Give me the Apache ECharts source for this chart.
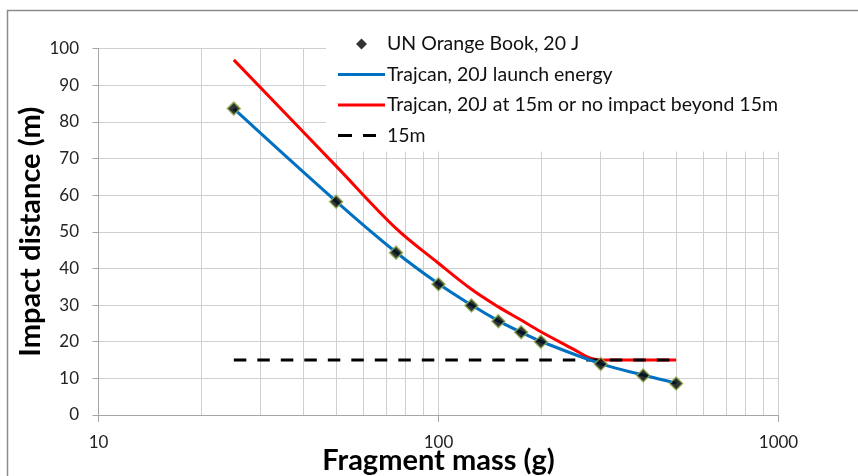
<!DOCTYPE html>
<html>
<head>
<meta charset="utf-8">
<script src="https://cdn.jsdelivr.net/npm/echarts@6/dist/echarts.min.js"></script>
<style>
  html, body { margin: 0; padding: 0; background: #ffffff; }
  #chart { width: 858px; height: 476px; }
</style>
</head>
<body>
<div id="chart"></div>
<script>
// Fragment masses (g) and impact distances (m)
var bookMasses = [25, 50, 75, 100, 125, 150, 175, 200, 300, 400, 500];
var bookDistances = [83.6, 58.2, 44.3, 35.7, 29.9, 25.6, 22.6, 20.0, 13.9, 10.8, 8.6];

var launchMasses = [25, 50, 75, 100, 125, 150, 175, 200, 300, 400, 500];
var launchDistances = [83.6, 58.3, 44.4, 35.8, 30.0, 25.7, 22.6, 20.1, 14.0, 10.9, 8.7];

var limitMasses = [25, 50, 75, 100, 125, 150, 175, 200, 250, 275, 300, 400, 500];
var limitDistances = [96.9, 67.9, 50.9, 41.4, 34.3, 29.5, 25.9, 22.7, 17.9, 15.8, 15.0, 15.0, 15.0];

var thresholdMasses = [25, 500];
var thresholdDistances = [15, 15];

// Intermediate log-decade gridlines
var minorGridMasses = [20, 30, 40, 50, 60, 70, 80, 90, 200, 300, 400, 500, 600, 700, 800, 900];

var seriesNames = [
  'UN Orange Book, 20 J',
  'Trajcan, 20J launch energy',
  'Trajcan, 20J at 15m or no impact beyond 15m',
  '15m'
];

function pairs(xs, ys) {
  return xs.map(function (x, i) { return [x, ys[i]]; });
}

var FONT = 'Lato, "Open Sans", sans-serif';
var GRID_COLOR = '#cfcfcf';
var AXIS_COLOR = '#a6a6a6';

// Legend icons: padded so they keep their size inside the 47x12 icon box
var ICON_DIAMOND = 'path://M0 0M47 12M23.5 0.5L29 6L23.5 11.5L18 6Z';
var ICON_LINE = 'path://M0 0M47 12M0 4.5H47V7.5H0Z';
var ICON_DASH = 'path://M0 0M47 12M0 4.5H14V7.5H0ZM25 4.5H38V7.5H25Z';

var chart = echarts.init(document.getElementById('chart'), null, { renderer: 'canvas' });

chart.setOption({
  animation: false,
  backgroundColor: '#ffffff',
  textStyle: { fontFamily: FONT },
  graphic: [{
    type: 'rect',
    shape: { x: 7.5, y: 10.5, width: 900, height: 500 },
    style: { fill: 'none', stroke: '#8c8c8c', lineWidth: 1.5 },
    silent: true,
    z: -10
  }],
  grid: {
    left: 98.5, right: 79.5, top: 48.5, bottom: 61,
    containLabel: false,
    outerBoundsMode: 'none'
  },
  legend: {
    data: [
      { name: seriesNames[0], icon: ICON_DIAMOND },
      { name: seriesNames[1], icon: ICON_LINE },
      { name: seriesNames[2], icon: ICON_LINE },
      { name: seriesNames[3], icon: ICON_DASH }
    ],
    orient: 'vertical',
    left: 326,
    top: 28,
    padding: [6, 10, 6, 12],
    itemWidth: 47,
    itemHeight: 12,
    itemGap: 10.5,
    symbolKeepAspect: true,
    backgroundColor: '#ffffff',
    itemStyle: { borderWidth: 0 },
    lineStyle: { width: 0 },
    textStyle: { fontFamily: FONT, fontSize: 19.5, color: '#111', lineHeight: 20, padding: [0, 0, 0, -3] },
    z: 4
  },
  xAxis: {
    type: 'log',
    logBase: 10,
    min: 10,
    max: 1000,
    name: 'Fragment mass (g)',
    nameLocation: 'middle',
    nameGap: 31,
    nameMoveOverlap: false,
    nameTextStyle: { fontFamily: FONT, fontSize: 29, fontWeight: 'bold', color: '#000' },
    axisLine: { show: true, onZero: false, lineStyle: { color: AXIS_COLOR, width: 1 } },
    axisTick: { show: true, length: 7, lineStyle: { color: AXIS_COLOR } },
    axisLabel: {
      fontFamily: FONT, fontSize: 17, color: '#222', margin: 19,
      formatter: function (v) { return String(Math.round(v)); }
    },
    splitLine: { show: true, lineStyle: { color: GRID_COLOR, width: 1 } },
    minorTick: { show: false },
    minorSplitLine: { show: false }
  },
  yAxis: {
    type: 'value',
    min: 0,
    max: 100,
    interval: 10,
    name: 'Impact distance (m)',
    nameLocation: 'middle',
    nameRotate: 90,
    nameGap: 53,
    nameMoveOverlap: false,
    nameTextStyle: { fontFamily: FONT, fontSize: 29, fontWeight: 'bold', color: '#000' },
    axisLine: { show: true, lineStyle: { color: AXIS_COLOR, width: 1 } },
    axisTick: { show: true, length: 6, lineStyle: { color: AXIS_COLOR } },
    axisLabel: { fontFamily: FONT, fontSize: 17, color: '#222', margin: 19.5 },
    splitLine: { show: true, lineStyle: { color: GRID_COLOR, width: 1 } }
  },
  series: [
    {
      name: 'minor-grid',
      type: 'line',
      data: [],
      silent: true,
      z: 1,
      markLine: {
        silent: true,
        symbol: ['none', 'none'],
        z: 1,
        label: { show: false },
        lineStyle: { color: GRID_COLOR, width: 1, type: 'solid' },
        emphasis: { disabled: true },
        data: minorGridMasses.map(function (m) { return { xAxis: m }; })
      }
    },
    {
      name: seriesNames[2],
      type: 'line',
      data: pairs(limitMasses, limitDistances),
      smooth: 0.35,
      showSymbol: false,
      symbol: 'none',
      lineStyle: { color: '#ff0000', width: 3 },
      itemStyle: { color: '#ff0000' },
      z: 2
    },
    {
      name: seriesNames[3],
      type: 'line',
      data: pairs(thresholdMasses, thresholdDistances),
      showSymbol: false,
      symbol: 'none',
      lineStyle: { color: '#000000', width: 3, type: [12.5, 11] },
      itemStyle: { color: '#000000' },
      z: 3
    },
    {
      name: seriesNames[1],
      type: 'line',
      data: pairs(launchMasses, launchDistances),
      smooth: 0.4,
      showSymbol: false,
      symbol: 'none',
      lineStyle: { color: '#0070c0', width: 3 },
      itemStyle: { color: '#0070c0' },
      z: 4
    },
    {
      name: seriesNames[0],
      type: 'scatter',
      data: pairs(bookMasses, bookDistances),
      symbol: 'diamond',
      symbolSize: 13,
      itemStyle: { color: '#000000', borderColor: '#8fae4f', borderWidth: 1.5 },
      z: 5
    }
  ]
});
</script>
</body>
</html>
